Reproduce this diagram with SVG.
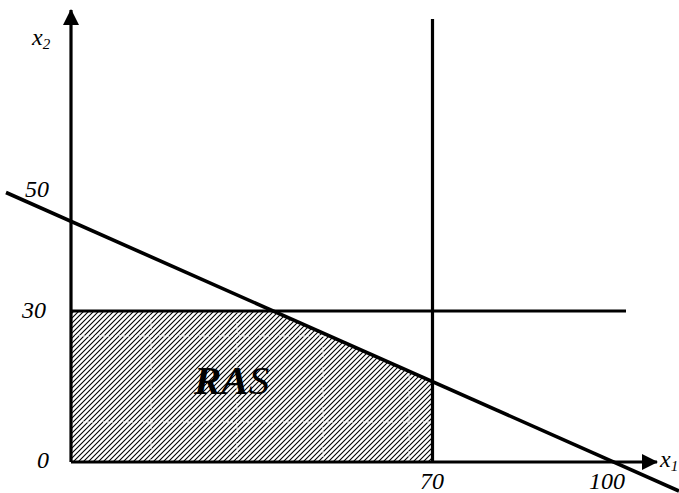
<svg xmlns="http://www.w3.org/2000/svg" width="679" height="493" viewBox="0 0 679 493">
<style>
.ln{stroke:#000;stroke-width:3.2;fill:none}
.lbl{font-family:"Liberation Serif","Times New Roman",serif;font-style:italic;font-size:24px;fill:#000}
.grid{stroke:#fff;stroke-width:1;stroke-dasharray:2,2}
</style>
<defs>
<pattern id="hatch" patternUnits="userSpaceOnUse" width="5" height="5">
<rect width="5" height="5" fill="#fff"/>
<path d="M-1,6 L6,-1 M-1,1 L1,-1 M4,6 L6,4" stroke="#000" stroke-width="1.1"/>
</pattern>
<marker id="arr" viewBox="0 0 16 16" refX="15" refY="8" markerWidth="16" markerHeight="16" markerUnits="userSpaceOnUse" orient="auto">
<path d="M0,0 L16,8 L0,16 Z" fill="#000"/>
</marker>
<clipPath id="rc"><polygon points="71,311 272,311 432,382 432,462 71,462"/></clipPath>
</defs>
<rect width="679" height="493" fill="#fff"/>
<g id="region">
<polygon points="71,311 272,311 432,382 432,462 71,462" fill="url(#hatch)"/>
<g clip-path="url(#rc)">
<line class="grid" x1="151" y1="311" x2="151" y2="462"/>
<line class="grid" x1="237" y1="311" x2="237" y2="462"/>
<line class="grid" x1="323" y1="311" x2="323" y2="462"/>
<line class="grid" x1="409" y1="311" x2="409" y2="462"/>
<line class="grid" x1="71" y1="336" x2="432" y2="336"/>
<line class="grid" x1="71" y1="422" x2="432" y2="422"/>
</g>
<text x="194" y="394" font-family="'Liberation Serif','Times New Roman',serif" font-style="italic" font-size="41" fill="#000"><tspan font-weight="bold">RA</tspan><tspan>S</tspan></text>
</g>
<g id="connectors">
<line id="x2axis" class="ln" x1="71" y1="462" x2="71" y2="10" marker-end="url(#arr)"/>
<line id="x1axis" class="ln" x1="71" y1="462" x2="657" y2="462" marker-end="url(#arr)"/>
<line id="h30" class="ln" x1="71" y1="311" x2="626" y2="311"/>
<line id="v70" class="ln" x1="432.5" y1="19" x2="432.5" y2="462"/>
<line id="slope" class="ln" style="stroke-width:3.6" x1="6" y1="192.5" x2="679" y2="491"/>
</g>
<g id="labels">
<text class="lbl" x="32" y="45">x<tspan font-size="15" dy="4">2</tspan></text>
<text class="lbl" x="660" y="467">x<tspan font-size="15" dy="4">1</tspan></text>
<text class="lbl" x="25" y="197">50</text>
<text class="lbl" x="22" y="318">30</text>
<text class="lbl" x="37" y="468">0</text>
<text class="lbl" x="420" y="489">70</text>
<text class="lbl" x="589" y="489">100</text>
</g>
</svg>
